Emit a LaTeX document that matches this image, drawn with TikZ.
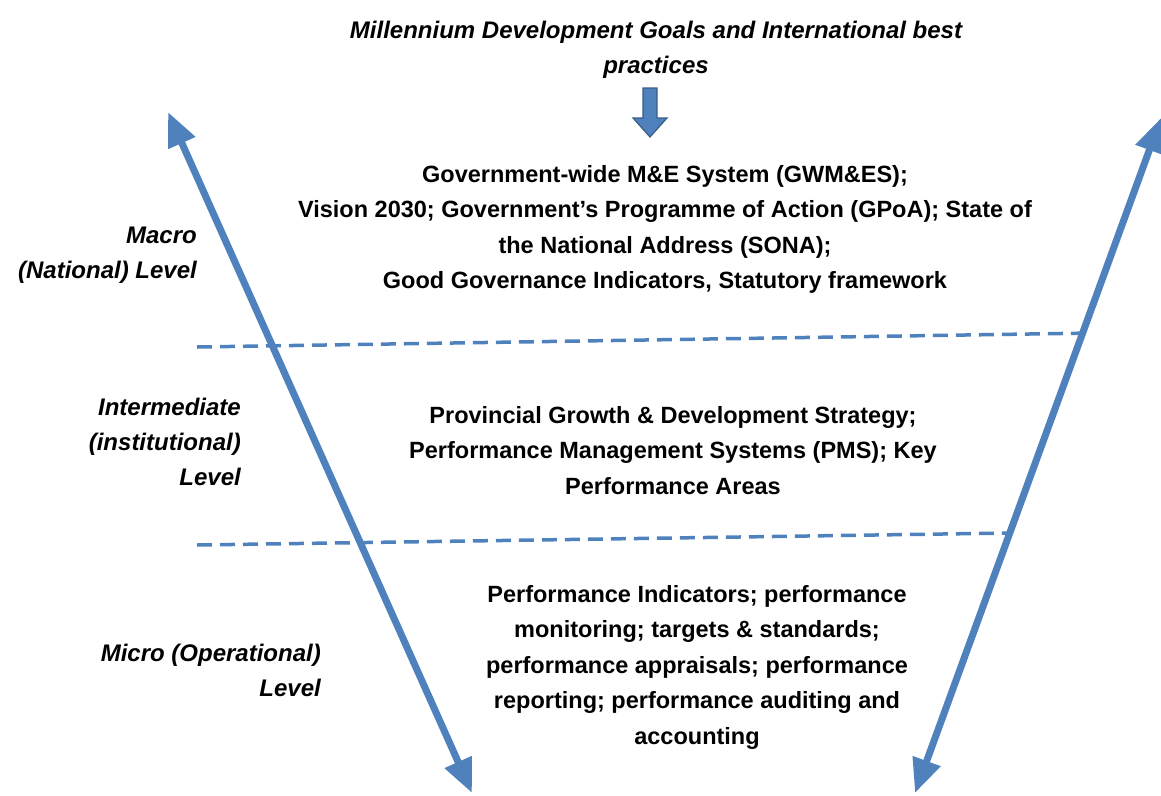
\documentclass[tikz,border=0pt]{standalone}
\usepackage{fontspec}
\setmainfont{Liberation Sans}
\usetikzlibrary{arrows.meta}
\definecolor{ablue}{HTML}{4F81BD}
\definecolor{dblue}{HTML}{385D8A}
\begin{document}
\begin{tikzpicture}[x=1pt,y=-1pt,
  body/.style={font=\bfseries\fontsize{23.5}{35.5}\selectfont, align=center, inner sep=0pt, anchor=north},
  lvl/.style={font=\bfseries\itshape\fontsize{24}{35}\selectfont, align=right, inner sep=0pt, anchor=north east},
  bigarrow/.style={draw=ablue, line width=7pt, {Triangle[length=34pt,width=28pt]}-{Triangle[length=34pt,width=28pt]}},
  dashline/.style={draw=ablue, line width=3.5pt, dash pattern=on 15pt off 8pt}]
\useasboundingbox (0,0) rectangle (1161,795);
% long arrows
\coordinate (l1) at (168,112);
\coordinate (l2) at (472,793);
\coordinate (r1) at (1161,118);
\coordinate (r2) at (915,793);
\draw[bigarrow] (l1) -- (l2);
\draw[bigarrow] (r1) -- (r2);
% dashed lines
\coordinate (d1a) at (197,347);
\coordinate (d1b) at (1093,333);
\coordinate (d2a) at (197,545);
\coordinate (d2b) at (1010,533);
\draw[dashline] (d1a) -- (d1b);
\draw[dashline] (d2a) -- (d2b);
% title
\node[body, font=\bfseries\itshape\fontsize{24}{35}\selectfont] (title) at (656,21) {Millennium Development Goals and International best\\practices};
% down arrow
\filldraw[fill=ablue, draw=dblue, line width=1.2pt] (643,88) -- (657,88) -- (657,118) -- (667,118) -- (650,137) -- (633,118) -- (643,118) -- cycle;
% blocks
\node[body] (macro) at (665,165) {Government-wide M\&E System (GWM\&ES);\\Vision 2030; Government's Programme of Action (GPoA); State of\\the National Address (SONA);\\Good Governance Indicators, Statutory framework};
\node[body] (inter) at (673,406) {Provincial Growth \& Development Strategy;\\Performance Management Systems (PMS); Key\\Performance Areas};
\node[body] (micro) at (697,585) {Performance Indicators; performance\\monitoring; targets \& standards;\\performance appraisals; performance\\reporting; performance auditing and\\accounting};
% level labels
\node[lvl] (lmacro) at (197,227) {Macro\\(National) Level};
\node[lvl] (linter) at (241,398) {Intermediate\\(institutional)\\Level};
\node[lvl] (lmicro) at (321,644) {Micro (Operational)\\Level};
\end{tikzpicture}
\end{document}
